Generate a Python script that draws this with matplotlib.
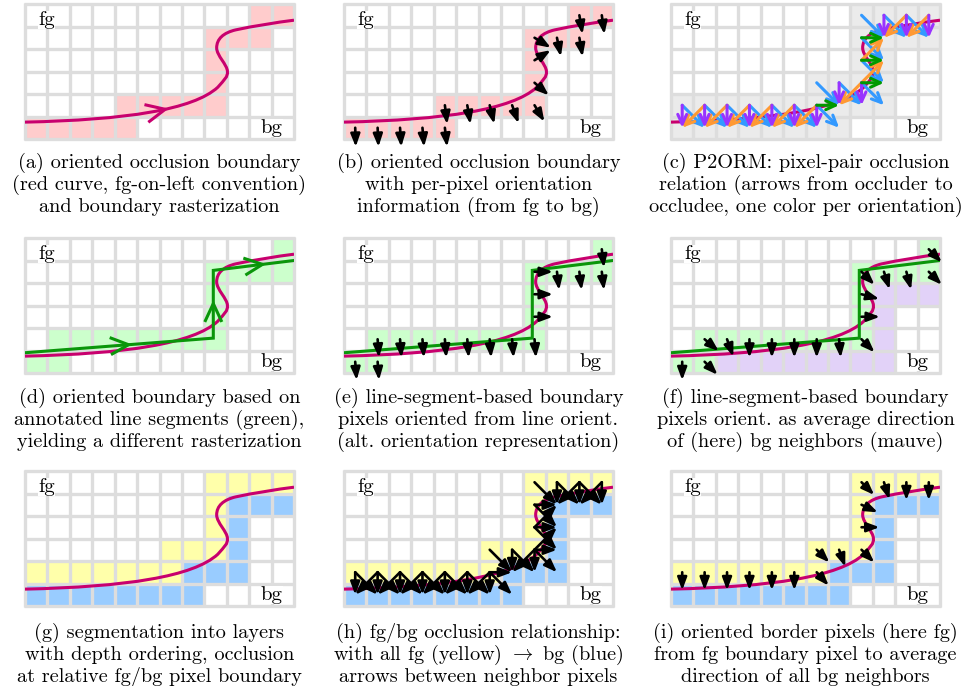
import numpy as np
import matplotlib
matplotlib.use('Agg')
import matplotlib.pyplot as plt
from matplotlib.patches import Rectangle, FancyArrowPatch, PathPatch
from matplotlib.path import Path

plt.rcParams['font.family'] = ['cmr10', 'DejaVu Serif']
plt.rcParams['mathtext.fontset'] = 'cm'
plt.rcParams['axes.unicode_minus'] = False

W, H = 974, 686
n_cols, n_rows = 12, 6

# boundary curve, cubic bezier pieces in grid units (y up)
curve_verts = [(0, 0.75),
               (4.5, 0.85), (7.5, 1.3), (8.6, 2.3),
               (8.9, 2.65), (9.05, 2.75), (9.03, 3.0),
               (9.03, 3.3), (8.55, 3.7), (8.55, 4.05),
               (8.55, 4.45), (8.85, 4.72), (9.4, 4.85),
               (10.2, 5.02), (11.2, 5.18), (12, 5.28)]
curve_arrow_x = 6.3

# annotated line segments (green)
green_x = [0, 8.4, 8.4, 12]
green_y = [0.9, 1.55, 4.56, 5.0]
green_chevron_t = [0.55, 0.51, 0.61]

# first fg row in each column
fg_start = [1, 1, 1, 1, 1, 1, 1, 2, 2, 5, 5, 5]

pink_cols = [0, 1, 2, 3, 4, 4, 5, 6, 7, 8, 8, 8, 8, 9, 10, 10, 11]
pink_rows = [0, 0, 0, 0, 0, 1, 1, 1, 1, 1, 2, 3, 4, 4, 4, 5, 5]

green_cols = [0, 1, 1, 2, 3, 4, 5, 6, 7, 8, 8, 8, 8, 9, 10, 11, 11]
green_rows = [0, 0, 1, 1, 1, 1, 1, 1, 1, 1, 2, 3, 4, 4, 4, 4, 5]
green_seg = [0, 0, 0, 0, 0, 0, 0, 0, 0, 0, 1, 1, 1, 2, 2, 2, 2]

mauve_cols = [2, 3, 4, 5, 6, 7, 8, 9, 9, 9, 9, 10, 11]
mauve_rows = [0, 0, 0, 0, 0, 0, 0, 0, 1, 2, 3, 3, 3]

# (f) average bg-neighbour direction for each green cell, degrees
f_angles = [-90, -45, -40, -70, -90, -90, -90, -90, -85, -45, 0, -15, -45, -72, -75, -45, -45]

# (i) fg border pixels and their direction, degrees
i_cols = [0, 1, 2, 3, 4, 5, 6, 6, 7, 8, 8, 8, 8, 9, 10, 11]
i_rows = [1, 1, 1, 1, 1, 1, 1, 2, 2, 2, 3, 4, 5, 5, 5, 5]
i_angles = [-90, -90, -90, -90, -90, -90, -48, -45, -70, -45, 0, -25, -45, -72, -90, -90]

captions = [
    ["(a) oriented occlusion boundary", "(red curve, fg-on-left convention)", "and boundary rasterization"],
    ["(b) oriented occlusion boundary", "with per-pixel orientation", "information (from fg to bg)"],
    ["(c) P2ORM: pixel-pair occlusion", "relation (arrows from occluder to", "occludee, one color per orientation)"],
    ["(d) oriented boundary based on", "annotated line segments (green),", "yielding a different rasterization"],
    ["(e) line-segment-based boundary", "pixels oriented from line orient.", "(alt. orientation representation)"],
    ["(f) line-segment-based boundary", "pixels orient. as average direction", "of (here) bg neighbors (mauve)"],
    ["(g) segmentation into layers", "with depth ordering, occlusion", "at relative fg/bg pixel boundary"],
    ["(h) fg/bg occlusion relationship:", r"with all fg (yellow) $\rightarrow$ bg (blue)", "arrows between neighbor pixels"],
    ["(i) oriented border pixels (here fg)", "from fg boundary pixel to average", "direction of all bg neighbors"],
]

col_left = [25, 344, 671]
row_top = [4, 238, 471]
grid_w, grid_h = 269, 135
cap_y0 = [163, 398, 633]
cap_step = 22

MAG = '#c8006e'
GRN = '#0a960a'
GRID = '#dddddd'
PINK = '#ffcccc'
LGREEN = '#ccffcc'
MAUVE = '#e2d2f8'
YEL = '#ffffaa'
BLUE = '#99ccff'
GRAY = '#ebebeb'
P2_COLORS = {'h': '#009900', 'v': '#9933ff', 'd': '#3399ff', 'a': '#ff9933'}

fg = np.zeros((n_cols, n_rows), bool)
for c in range(n_cols):
    fg[c, fg_start[c]:] = True

nbrs = [(dx, dy) for dx in (-1, 0, 1) for dy in (-1, 0, 1) if (dx, dy) != (0, 0)]
pairs = []
yellow, blue = set(), set()
for c in range(n_cols):
    for r in range(n_rows):
        if not fg[c, r]:
            continue
        for dx, dy in nbrs:
            cc, rr = c + dx, r + dy
            if 0 <= cc < n_cols and 0 <= rr < n_rows and not fg[cc, rr]:
                pairs.append((c, r, dx, dy))
                yellow.add((c, r))
                blue.add((cc, rr))


def bezier_points(verts, n=80):
    v = np.array(verts, float)
    t = np.linspace(0, 1, n)[1:, None]
    pts = [v[0]]
    for k in range(1, len(v), 3):
        p0, p1, p2, p3 = v[k - 1], v[k], v[k + 1], v[k + 2]
        seg = (1 - t) ** 3 * p0 + 3 * (1 - t) ** 2 * t * p1 + 3 * (1 - t) * t ** 2 * p2 + t ** 3 * p3
        pts.extend(seg)
    return np.array(pts)


curve_pts = bezier_points(curve_verts)
curve_tan = np.gradient(curve_pts, axis=0)
curve_tan /= np.linalg.norm(curve_tan, axis=1)[:, None]

fig = plt.figure(figsize=(W / 100, H / 100), dpi=100)


def make_ax(r, c):
    ax = fig.add_axes([col_left[c] / W, 1 - (row_top[r] + grid_h) / H, grid_w / W, grid_h / H])
    ax.set_xlim(0, n_cols)
    ax.set_ylim(0, n_rows)
    ax.axis('off')
    return ax


def draw_grid(ax, cells):
    for (c, r), col in cells.items():
        ax.add_patch(Rectangle((c, r), 1, 1, fc=col, ec='none', zorder=1))
    ax.vlines(range(n_cols + 1), -0.05, n_rows + 0.05, color=GRID, lw=2.4, zorder=2, clip_on=False)
    ax.hlines(range(n_rows + 1), -0.05, n_cols + 0.05, color=GRID, lw=2.4, zorder=2, clip_on=False)
    ax.text(0.95, 5.05, 'fg', ha='center', va='baseline', fontsize=15, zorder=3,
            bbox=dict(fc='white', ec='none', pad=0))
    ax.text(11.0, 0.27, 'bg', ha='center', va='baseline', fontsize=15, zorder=3,
            bbox=dict(fc='white', ec='none', pad=0))


def draw_curve(ax, z=4):
    codes = [Path.MOVETO] + [Path.CURVE4] * (len(curve_verts) - 1)
    ax.add_patch(PathPatch(Path(curve_verts, codes), fc='none', ec=MAG, lw=2.2, zorder=z))


def draw_green(ax, z=5):
    ax.plot(green_x, green_y, color=GRN, lw=2.2, zorder=z, solid_joinstyle='miter')


def chevron(ax, tip, d, color, L=0.95, half=25, z=6):
    pts = []
    for s in (1, -1):
        a = np.radians(180 + s * half)
        rot = np.array([[np.cos(a), -np.sin(a)], [np.sin(a), np.cos(a)]])
        pts.append(tip + L * rot @ d)
    ax.plot([pts[0][0], tip[0], pts[1][0]], [pts[0][1], tip[1], pts[1][1]],
            color=color, lw=2.2, zorder=z, solid_joinstyle='miter', solid_capstyle='butt')


def arrow(ax, x0, y0, x1, y1, color='black', lw=1.9, z=6, style='-|>,head_length=0.75,head_width=0.28'):
    ax.add_patch(FancyArrowPatch((x0, y0), (x1, y1), arrowstyle=style,
                                 mutation_scale=10, color=color, lw=lw,
                                 shrinkA=0, shrinkB=0, clip_on=False, zorder=z))


def arrow_dir(ax, c, r, dx, dy, L=0.85, **kw):
    n = np.hypot(dx, dy)
    x0, y0 = c + 0.5, r + 0.5
    arrow(ax, x0, y0, x0 + L * dx / n, y0 + L * dy / n, **kw)


pink = {(c, r): PINK for c, r in zip(pink_cols, pink_rows)}
greens = {(c, r): LGREEN for c, r in zip(green_cols, green_rows)}

# (a)
ax = make_ax(0, 0)
draw_grid(ax, pink)
draw_curve(ax)
k = np.argmin(np.abs(curve_pts[:80, 0] - curve_arrow_x))
chevron(ax, curve_pts[k], curve_tan[k], MAG)

# (b)
ax = make_ax(0, 1)
draw_grid(ax, pink)
draw_curve(ax)
for c, r in zip(pink_cols, pink_rows):
    k = np.argmin(np.hypot(curve_pts[:, 0] - c - 0.5, curve_pts[:, 1] - r - 0.5))
    tx, ty = curve_tan[k]
    arrow_dir(ax, c, r, ty, -tx)

# (c)
ax = make_ax(0, 2)
draw_grid(ax, {cell: GRAY for cell in yellow | blue})
draw_curve(ax)
order = {'d': 6, 'a': 7, 'v': 8, 'h': 9}
for c, r, dx, dy in pairs:
    kind = 'h' if dy == 0 else 'v' if dx == 0 else 'd' if dx * dy < 0 else 'a'
    arrow(ax, c + 0.5, r + 0.5, c + dx + 0.5, r + dy + 0.5, color=P2_COLORS[kind], lw=2.2,
          z=order[kind], style='->,head_length=0.7,head_width=0.32')

# (d)
ax = make_ax(1, 0)
draw_grid(ax, greens)
draw_curve(ax)
draw_green(ax)
for s, t in enumerate(green_chevron_t):
    p0 = np.array([green_x[s], green_y[s]])
    p1 = np.array([green_x[s + 1], green_y[s + 1]])
    d = (p1 - p0) / np.linalg.norm(p1 - p0)
    chevron(ax, p0 + t * (p1 - p0), d, GRN, L=0.9)

# (e)
ax = make_ax(1, 1)
draw_grid(ax, greens)
draw_curve(ax)
draw_green(ax)
for c, r, s in zip(green_cols, green_rows, green_seg):
    dx = green_x[s + 1] - green_x[s]
    dy = green_y[s + 1] - green_y[s]
    arrow_dir(ax, c, r, dy, -dx, L=0.82)

# (f)
ax = make_ax(1, 2)
cells = dict(greens)
cells.update({(c, r): MAUVE for c, r in zip(mauve_cols, mauve_rows)})
draw_grid(ax, cells)
draw_curve(ax)
draw_green(ax)
for c, r, a in zip(green_cols, green_rows, f_angles):
    arrow_dir(ax, c, r, np.cos(np.radians(a)), np.sin(np.radians(a)), L=0.82)

# (g), (h), (i)
layers = {cell: YEL for cell in yellow}
layers.update({cell: BLUE for cell in blue})

ax = make_ax(2, 0)
draw_grid(ax, layers)
draw_curve(ax)

ax = make_ax(2, 1)
draw_grid(ax, layers)
draw_curve(ax)
for c, r, dx, dy in pairs:
    arrow(ax, c + 0.5, r + 0.5, c + dx + 0.5, r + dy + 0.5, lw=1.9)

ax = make_ax(2, 2)
draw_grid(ax, layers)
draw_curve(ax)
for c, r, a in zip(i_cols, i_rows, i_angles):
    arrow_dir(ax, c, r, np.cos(np.radians(a)), np.sin(np.radians(a)), L=0.8)

for n, lines in enumerate(captions):
    r, c = divmod(n, 3)
    xc = (col_left[c] + grid_w / 2) / W
    for j, line in enumerate(lines):
        fig.text(xc, 1 - (cap_y0[r] + cap_step * j) / H, line, ha='center', va='center', fontsize=14.6)

fig.savefig('out.png', dpi=100, facecolor='white')
